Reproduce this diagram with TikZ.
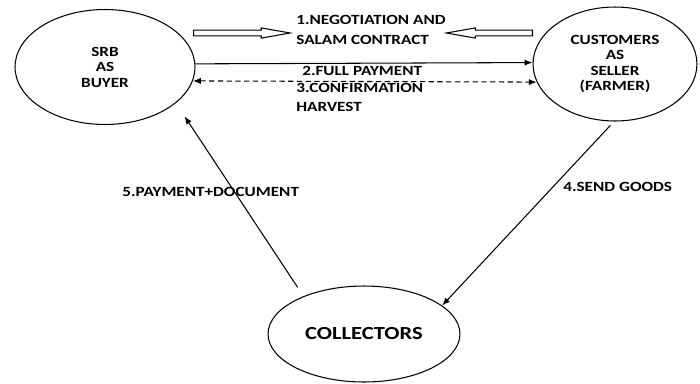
\documentclass[tikz,border=0pt]{standalone}
\usepackage{fontspec}
\setmainfont{Carlito}
\newfontfamily\widefont{Carlito}[FakeStretch=1.22]
\usetikzlibrary{positioning,shapes.geometric,shapes.arrows,arrows.meta}

\tikzset{
  party/.style={draw,ellipse,semithick,inner sep=0pt,align=center,
    font=\widefont\bfseries\fontsize{8}{8.8}\selectfont},
  lbl/.style={anchor=west,inner sep=0pt,align=left,
    font=\widefont\bfseries\fontsize{8}{11.3}\selectfont},
  hollow/.style={draw,semithick,single arrow,inner sep=0pt,inner ysep=1.3pt,
    single arrow head extend=1.3pt,single arrow tip angle=20,minimum width=0pt},
  flow/.style={semithick,-{Latex[length=4.5pt,width=3.5pt]}},
  twoway/.style={semithick,{Latex[length=4.5pt,width=3.5pt]}-{Latex[length=4.5pt,width=3.5pt]},
    dash pattern=on 3pt off 2pt}
}

\begin{document}
\begin{tikzpicture}[x=0.02cm,y=-0.02cm]
    \useasboundingbox (0,0) rectangle (700,383);

    \node[party,minimum width=3.6cm,minimum height=2.3cm] (srb) at (105,67) {SRB\\AS\\BUYER};
    \node[party,minimum width=3.28cm,minimum height=2.28cm] (cust) at (615,64) {CUSTOMERS\\AS\\SELLER\\(FARMER)};
    \node[party,minimum width=3.84cm,minimum height=1.92cm,font=\widefont\bfseries\fontsize{10.5}{13}\selectfont] (col) at (364,334) {COLLECTORS};

    \node[hollow,minimum height=55pt,anchor=tail] (negl) at (193,33) {};
    \node[hollow,minimum height=49pt,shape border rotate=180,anchor=tail] (negr) at (533,33) {};

    \node[lbl] (neg) at (296,30) {1.NEGOTIATION AND\\SALAM CONTRACT};
    \node[lbl] (pay) at (302,71) {2.FULL PAYMENT};
    \node[lbl,font=\widefont\bfseries\fontsize{8}{10.8}\selectfont] (conf) at (296,97.5) {3.CONFIRMATION\\HARVEST};
    \node[lbl] (doc) at (122,192) {5.PAYMENT+DOCUMENT};
    \node[lbl] (send) at (563,187) {4.SEND GOODS};

    % arrows
    \draw[flow] (srb.2.6) -- (cust.179.3);
    \draw[twoway] (srb.-9.1) -- (cust.-167.7);
    \draw[flow,shorten <=3pt] (cust.-91.2) -- (col.20.9);
    \draw[flow,shorten <=6pt,shorten >=9pt] (col.148.3) -- (srb.-27.2);

\end{tikzpicture}
\end{document}
